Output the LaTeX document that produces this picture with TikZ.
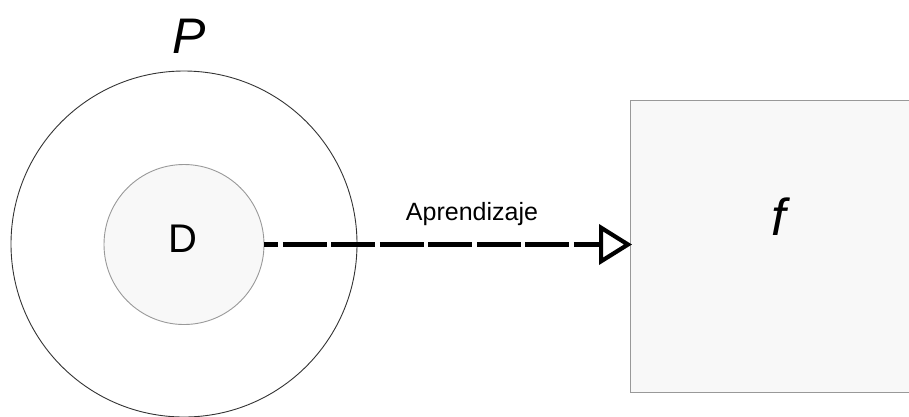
\documentclass[tikz,border=0pt]{standalone}
\usepackage{fontspec}
\setmainfont{Liberation Sans}
\usetikzlibrary{arrows.meta}
\definecolor{softfill}{HTML}{F8F8F8}
\definecolor{softline}{HTML}{999999}
\definecolor{ringline}{HTML}{333333}
\begin{document}
\begin{tikzpicture}[x=1pt,y=-1pt,
  ring/.style={circle,draw=ringline,line width=0.9pt,minimum size=346pt,inner sep=0pt},
  setnode/.style={circle,draw=softline,fill=softfill,line width=0.9pt,minimum size=160pt,inner sep=0pt},
  funcbox/.style={rectangle,draw=softline,fill=softfill,line width=1.3pt,anchor=north west,
    minimum width=340pt,minimum height=292pt,inner sep=0pt},
  lbl/.style={inner sep=0pt,anchor=base},
  learn/.style={line width=4.2pt,dash pattern=on 44pt off 4.5pt,dash phase=30pt,shorten >=-2.5pt,
    -{Triangle[open,length=33pt,width=40pt,line join=miter]}}]
\useasboundingbox (0,0) rectangle (909,416);
\clip (0,0) rectangle (909,416);
% population P with the sample D inside
\node[ring] (P) at (184,244) {};
\node[setnode] (D) at (184,244.5) {};
\node[lbl,font=\fontsize{40}{48}\selectfont] (Dlbl) at (183,252) {D};
\node[lbl,font=\itshape\fontsize{50}{60}\selectfont] (Plbl) at (189,53) {P};
% learned function
\node[funcbox] (fbox) at (629.5,100) {};
\node[lbl,font=\itshape\fontsize{52}{62}\selectfont] (flbl) at (779,235) {f};
% learning arrow
\draw[learn] (D.east) -- (fbox.west |- D.east);
\node[lbl,font=\fontsize{25}{30}\selectfont] (alabel) at (472,220) {Aprendizaje};
\end{tikzpicture}
\end{document}
